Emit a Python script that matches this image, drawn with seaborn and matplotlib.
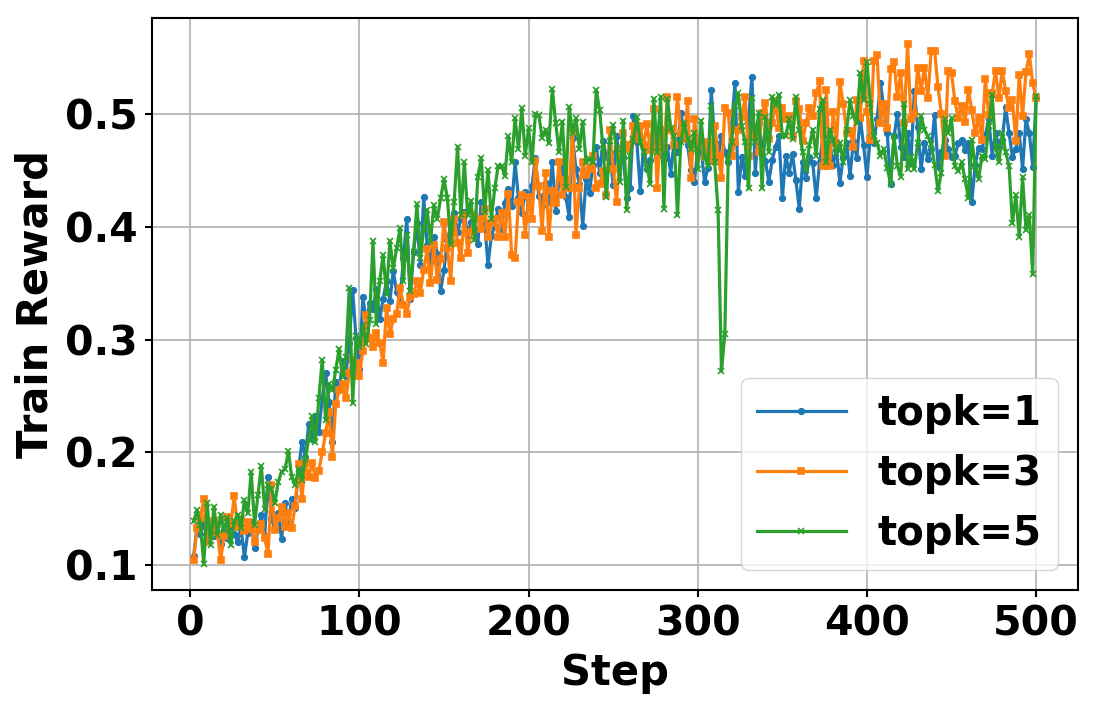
import numpy as np
import pandas as pd
import seaborn as sns
import matplotlib
matplotlib.use("Agg")
import matplotlib.pyplot as plt

# training steps (every 2nd step)
steps = list(range(2, 501, 2))

# train reward, topk=1 (blue)
reward_topk1 = [
    0.108, 0.135, 0.128, 0.138, 0.122, 0.133, 0.126, 0.137, 0.119, 0.131, 0.124, 0.136, 0.128, 0.121, 0.134, 0.107, 0.129, 0.138, 0.115, 0.131, 0.145, 0.126, 0.178, 0.141, 0.132,
    0.146, 0.123, 0.155, 0.138, 0.159, 0.151, 0.185, 0.209, 0.196, 0.225, 0.212, 0.232, 0.218, 0.248, 0.270, 0.245, 0.209, 0.262, 0.255, 0.281, 0.268, 0.297, 0.344, 0.301, 0.274,
    0.338, 0.315, 0.332, 0.327, 0.345, 0.318, 0.336, 0.352, 0.334, 0.361, 0.342, 0.334, 0.372, 0.407, 0.336, 0.378, 0.403, 0.366, 0.426, 0.384, 0.369, 0.391, 0.376, 0.343, 0.362,
    0.388, 0.401, 0.412, 0.395, 0.407, 0.413, 0.392, 0.404, 0.398, 0.385, 0.422, 0.404, 0.366, 0.392, 0.401, 0.416, 0.398, 0.421, 0.433, 0.418, 0.457, 0.425, 0.412, 0.431, 0.419,
    0.436, 0.461, 0.427, 0.418, 0.439, 0.422, 0.457, 0.414, 0.441, 0.457, 0.426, 0.409, 0.479, 0.451, 0.438, 0.401, 0.442, 0.430, 0.455, 0.471, 0.448, 0.476, 0.462, 0.466, 0.437,
    0.480, 0.458, 0.462, 0.425, 0.434, 0.498, 0.475, 0.432, 0.472, 0.451, 0.459, 0.475, 0.463, 0.483, 0.460, 0.471, 0.447, 0.475, 0.466, 0.501, 0.483, 0.472, 0.450, 0.440, 0.469,
    0.469, 0.440, 0.452, 0.521, 0.475, 0.461, 0.480, 0.466, 0.457, 0.489, 0.527, 0.431, 0.462, 0.445, 0.495, 0.533, 0.448, 0.492, 0.472, 0.458, 0.440, 0.459, 0.471, 0.480, 0.425,
    0.463, 0.448, 0.464, 0.441, 0.416, 0.457, 0.443, 0.462, 0.456, 0.425, 0.457, 0.480, 0.454, 0.474, 0.455, 0.468, 0.439, 0.462, 0.474, 0.445, 0.476, 0.461, 0.497, 0.472, 0.444,
    0.480, 0.474, 0.495, 0.527, 0.505, 0.483, 0.438, 0.480, 0.500, 0.471, 0.462, 0.483, 0.457, 0.520, 0.488, 0.451, 0.474, 0.460, 0.469, 0.499, 0.454, 0.466, 0.477, 0.469, 0.462,
    0.463, 0.474, 0.477, 0.468, 0.474, 0.422, 0.455, 0.470, 0.469, 0.481, 0.495, 0.463, 0.483, 0.471, 0.477, 0.506, 0.483, 0.462, 0.469, 0.483, 0.451, 0.495, 0.483, 0.453, 0.514,
]

# train reward, topk=3 (orange)
reward_topk3 = [
    0.105, 0.133, 0.142, 0.159, 0.121, 0.134, 0.139, 0.128, 0.105, 0.126, 0.143, 0.137, 0.161, 0.134, 0.141, 0.130, 0.138, 0.132, 0.121, 0.131, 0.137, 0.124, 0.110, 0.171, 0.131,
    0.142, 0.152, 0.134, 0.146, 0.133, 0.153, 0.190, 0.159, 0.191, 0.178, 0.191, 0.177, 0.184, 0.200, 0.217, 0.236, 0.196, 0.243, 0.255, 0.261, 0.248, 0.270, 0.282, 0.279, 0.268,
    0.290, 0.322, 0.301, 0.293, 0.306, 0.297, 0.279, 0.328, 0.305, 0.318, 0.323, 0.346, 0.331, 0.323, 0.338, 0.340, 0.352, 0.341, 0.362, 0.380, 0.350, 0.384, 0.353, 0.371, 0.404,
    0.381, 0.352, 0.407, 0.386, 0.372, 0.410, 0.377, 0.395, 0.410, 0.407, 0.398, 0.416, 0.391, 0.403, 0.407, 0.391, 0.412, 0.391, 0.429, 0.375, 0.372, 0.422, 0.428, 0.393, 0.426,
    0.407, 0.458, 0.436, 0.396, 0.448, 0.391, 0.432, 0.421, 0.457, 0.428, 0.441, 0.434, 0.486, 0.393, 0.434, 0.457, 0.446, 0.451, 0.463, 0.434, 0.438, 0.449, 0.428, 0.486, 0.451,
    0.422, 0.466, 0.483, 0.469, 0.472, 0.489, 0.478, 0.489, 0.472, 0.491, 0.468, 0.504, 0.434, 0.486, 0.470, 0.515, 0.486, 0.472, 0.515, 0.483, 0.478, 0.511, 0.443, 0.495, 0.475,
    0.475, 0.462, 0.475, 0.458, 0.489, 0.463, 0.443, 0.505, 0.501, 0.463, 0.475, 0.486, 0.497, 0.515, 0.463, 0.483, 0.480, 0.466, 0.501, 0.510, 0.478, 0.492, 0.511, 0.487, 0.505,
    0.495, 0.498, 0.480, 0.511, 0.504, 0.476, 0.492, 0.505, 0.498, 0.518, 0.529, 0.454, 0.521, 0.454, 0.502, 0.474, 0.528, 0.509, 0.483, 0.485, 0.471, 0.512, 0.496, 0.547, 0.502,
    0.477, 0.547, 0.552, 0.492, 0.509, 0.487, 0.540, 0.546, 0.515, 0.536, 0.492, 0.562, 0.495, 0.500, 0.541, 0.520, 0.541, 0.514, 0.556, 0.556, 0.524, 0.500, 0.463, 0.538, 0.536,
    0.511, 0.496, 0.507, 0.493, 0.521, 0.503, 0.483, 0.496, 0.477, 0.531, 0.499, 0.518, 0.538, 0.514, 0.538, 0.520, 0.505, 0.512, 0.476, 0.534, 0.498, 0.537, 0.553, 0.527, 0.514,
]

# train reward, topk=5 (green)
reward_topk5 = [
    0.139, 0.149, 0.136, 0.101, 0.155, 0.118, 0.152, 0.127, 0.145, 0.131, 0.142, 0.118, 0.139, 0.145, 0.133, 0.158, 0.146, 0.183, 0.136, 0.162, 0.188, 0.150, 0.171, 0.168, 0.155,
    0.174, 0.183, 0.185, 0.201, 0.178, 0.171, 0.185, 0.176, 0.194, 0.212, 0.232, 0.209, 0.248, 0.282, 0.229, 0.261, 0.255, 0.273, 0.292, 0.267, 0.285, 0.346, 0.244, 0.303, 0.293,
    0.312, 0.296, 0.317, 0.387, 0.314, 0.352, 0.375, 0.340, 0.387, 0.363, 0.381, 0.399, 0.352, 0.393, 0.343, 0.378, 0.420, 0.372, 0.398, 0.415, 0.387, 0.419, 0.407, 0.425, 0.442,
    0.425, 0.385, 0.422, 0.471, 0.410, 0.457, 0.410, 0.423, 0.388, 0.444, 0.461, 0.413, 0.450, 0.407, 0.434, 0.454, 0.454, 0.445, 0.480, 0.457, 0.496, 0.469, 0.505, 0.463, 0.487,
    0.457, 0.500, 0.499, 0.479, 0.486, 0.474, 0.522, 0.492, 0.466, 0.493, 0.435, 0.506, 0.483, 0.496, 0.469, 0.493, 0.457, 0.460, 0.457, 0.521, 0.503, 0.469, 0.426, 0.476, 0.490,
    0.469, 0.440, 0.494, 0.415, 0.463, 0.478, 0.497, 0.475, 0.466, 0.452, 0.438, 0.513, 0.466, 0.515, 0.416, 0.513, 0.487, 0.480, 0.410, 0.475, 0.492, 0.478, 0.469, 0.483, 0.451,
    0.494, 0.462, 0.454, 0.507, 0.457, 0.415, 0.272, 0.305, 0.460, 0.475, 0.507, 0.518, 0.489, 0.475, 0.434, 0.514, 0.475, 0.501, 0.434, 0.497, 0.466, 0.515, 0.508, 0.517, 0.480,
    0.480, 0.495, 0.478, 0.515, 0.486, 0.466, 0.450, 0.472, 0.486, 0.463, 0.504, 0.512, 0.457, 0.486, 0.477, 0.465, 0.474, 0.457, 0.486, 0.512, 0.498, 0.492, 0.536, 0.512, 0.546,
    0.509, 0.480, 0.474, 0.463, 0.469, 0.452, 0.438, 0.480, 0.454, 0.444, 0.509, 0.451, 0.462, 0.451, 0.474, 0.498, 0.486, 0.480, 0.473, 0.455, 0.432, 0.448, 0.495, 0.483, 0.496,
    0.454, 0.449, 0.457, 0.442, 0.425, 0.477, 0.454, 0.442, 0.463, 0.460, 0.489, 0.517, 0.471, 0.457, 0.483, 0.466, 0.454, 0.403, 0.428, 0.391, 0.444, 0.397, 0.410, 0.358, 0.516,
]

labels = ["topk=1", "topk=3", "topk=5"]
markers = ["o", "s", "x"]
marker_sizes = [4, 5, 4]


def main():
    series = [reward_topk1, reward_topk3, reward_topk5]

    plt.rcParams["font.family"] = ["DejaVu Sans"]
    plt.rcParams["font.weight"] = "bold"

    fig = plt.figure(figsize=(10.98, 7.12), dpi=100)
    ax = fig.add_axes([0.138, 0.171, 0.844, 0.804])

    colors = sns.color_palette("tab10", 3)
    for values, label, marker, ms, color in zip(series, labels, markers, marker_sizes, colors):
        df = pd.DataFrame({"Step": steps, "Train Reward": values})
        sns.lineplot(data=df, x="Step", y="Train Reward", ax=ax, color=color,
                     marker=marker, markersize=ms, markeredgewidth=1.2,
                     markeredgecolor=color, linewidth=2.3, label=label)

    ax.grid(True, color="#b0b0b0", linewidth=1.2)
    ax.set_axisbelow(True)
    ax.set_xticks([0, 100, 200, 300, 400, 500])
    ax.set_yticks([0.1, 0.2, 0.3, 0.4, 0.5])
    ax.tick_params(axis="both", labelsize=29.5, length=5, width=1.5, pad=5)
    for lab in ax.get_xticklabels() + ax.get_yticklabels():
        lab.set_fontweight("bold")
    ax.set_xlabel("Step", fontsize=30, fontweight="bold", labelpad=6)
    ax.set_ylabel("Train Reward", fontsize=30, fontweight="bold", labelpad=6)
    for sp in ax.spines.values():
        sp.set_linewidth(1.5)

    ax.legend(loc="lower right", prop={"size": 29, "weight": "bold"},
              handlelength=2.2, borderaxespad=0.5)

    fig.savefig("out.png", dpi=100)


if __name__ == "__main__":
    main()
